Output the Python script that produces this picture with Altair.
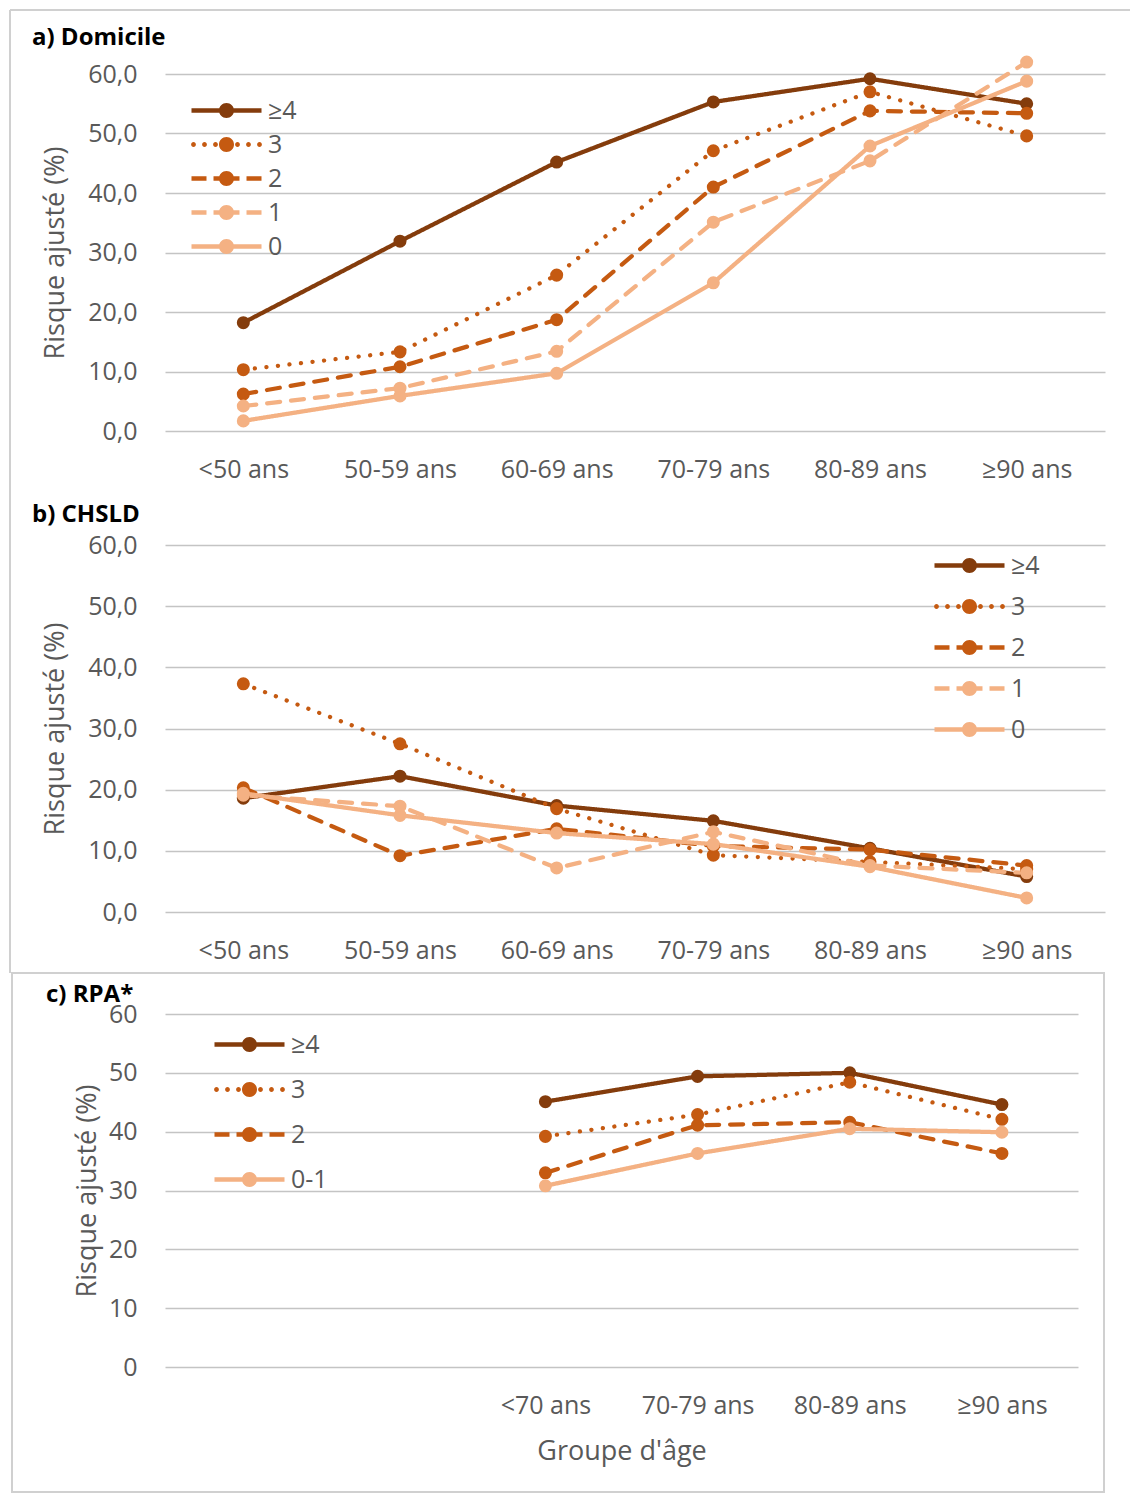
import altair as alt
import pandas as pd

# ---------------- data ----------------
ages_ab = ["<50 ans", "50-59 ans", "60-69 ans", "70-79 ans", "80-89 ans", "≥90 ans"]
series_ab = ["≥4", "3", "2", "1", "0"]

dom_ge4 = [18.2, 31.9, 45.2, 55.3, 59.2, 55.0]
dom_3 = [10.3, 13.3, 26.2, 47.1, 57.0, 49.6]
dom_2 = [6.2, 10.8, 18.7, 41.0, 53.8, 53.4]
dom_1 = [4.2, 7.2, 13.4, 35.1, 45.4, 62.0]
dom_0 = [1.7, 5.9, 9.7, 24.9, 47.9, 58.8]

chs_ge4 = [18.6, 22.2, 17.4, 14.9, 10.4, 5.8]
chs_3 = [37.3, 27.5, 16.9, 9.3, 8.2, 7.0]
chs_2 = [20.3, 9.2, 13.6, 10.8, 10.2, 7.6]
chs_1 = [19.1, 17.3, 7.2, 13.1, 7.6, 6.4]
chs_0 = [19.4, 15.8, 12.9, 11.1, 7.4, 2.3]

ages_c = ["<70 ans", "70-79 ans", "80-89 ans", "≥90 ans"]
slots_c = ["", " "] + ages_c  # two empty slots on the left of the RPA axis
series_c = ["≥4", "3", "2", "0-1"]
rpa_ge4 = [45.1, 49.4, 50.0, 44.6]
rpa_3 = [39.2, 42.9, 48.4, 42.1]
rpa_2 = [33.0, 41.1, 41.6, 36.3]
rpa_01 = [30.8, 36.3, 40.5, 39.9]

title_a = "a) Domicile"
title_b = "b) CHSLD"
title_c = "c) RPA*"
y_title = "Risque ajusté (%)"
x_title_c = "Groupe d'âge"


def long_df(ages, series, values):
    rows = []
    for s, vals in zip(series, values):
        for a, v in zip(ages, vals):
            rows.append({"age": a, "series": s, "value": v})
    return pd.DataFrame(rows)


df_a = long_df(ages_ab, series_ab, [dom_ge4, dom_3, dom_2, dom_1, dom_0])
df_b = long_df(ages_ab, series_ab, [chs_ge4, chs_3, chs_2, chs_1, chs_0])
df_c = long_df(ages_c, series_c, [rpa_ge4, rpa_3, rpa_2, rpa_01])
one = pd.DataFrame({"k": [0]})

# ---------------- styles ----------------
FONT = "Open Sans"
TXT = "#595959"
DARK = "#843C0C"
MID = "#C55A11"
LIGHT = "#F4B183"
FRAME = "#D0D0D0"
SOLID = [1, 0]
DOT = [0.1, 11.5]
DASH = [13, 11]

S = 12.0  # sqrt(symbol size)/2


def _r(x1, x2, h=2.25):
    return f"M{x1/S:.3f},{-h/S:.3f}L{x2/S:.3f},{-h/S:.3f}L{x2/S:.3f},{h/S:.3f}L{x1/S:.3f},{h/S:.3f}Z"


def _c(cx, r):
    return (f"M{(cx+r)/S:.3f},0A{r/S:.3f},{r/S:.3f} 0 1 1 {(cx-r)/S:.3f},0"
            f"A{r/S:.3f},{r/S:.3f} 0 1 1 {(cx+r)/S:.3f},0Z")


P_SOLID = _r(-35, 35) + _c(0, 7.5)
P_DOT = "".join(_c(x, 2.4) for x in (-33, -22, -11, 11, 22, 33)) + _c(0, 7.5)
P_DASH = _r(-35, -20) + _r(-13, -6) + _r(6, 13) + _r(20, 35) + _c(0, 7.5)


def panel(df, domain, series, colors, dashes, shapes, title, title_x, title_y,
          width, height, plot_h, x_label_pad, label_expr, y_title_pad,
          legend_x, legend_y, row_pad, frames, x_title=None):
    ax = dict(labelFont=FONT, labelFontSize=25, labelColor=TXT, labelPadding=x_label_pad,
              domain=False, ticks=False, grid=False, labelAngle=0)
    if x_title is not None:
        ax.update(title=x_title, titleFont=FONT, titleFontSize=27, titleColor=TXT,
                  titleFontWeight="normal", titlePadding=20)
    else:
        ax.update(title=None)
    x = alt.X("age:N", sort=domain, scale=alt.Scale(domain=domain), axis=alt.Axis(**ax))
    y = alt.Y("value:Q", scale=alt.Scale(domain=[0, 60], range=[plot_h, 0]),
              axis=alt.Axis(values=[0, 10, 20, 30, 40, 50, 60], labelExpr=label_expr,
                            labelFont=FONT, labelFontSize=25, labelColor=TXT, labelPadding=28,
                            domain=False, ticks=False, grid=True, gridColor="#C4C4C4",
                            gridWidth=1.4, title=y_title, titleFont=FONT,
                            titleFontSize=27, titleColor=TXT, titleFontWeight="normal",
                            titlePadding=y_title_pad))
    cscale = alt.Scale(domain=series, range=colors)
    leg = alt.Legend(title=None, orient="none", legendX=legend_x, legendY=legend_y,
                     direction="vertical", padding=0, labelFont=FONT, labelFontSize=25,
                     labelColor=TXT, symbolSize=576, symbolStrokeWidth=0, symbolOffset=24,
                     labelOffset=29, rowPadding=row_pad, symbolOpacity=1)
    # legend-only layer (no rows): carries the custom line+marker legend symbols
    lg = alt.Chart(df).transform_filter("false").mark_point(
        filled=True, opacity=1, size=576, strokeWidth=0
    ).encode(
        x=x, y=y,
        color=alt.Color("series:N", scale=cscale, legend=leg),
        shape=alt.Shape("series:N", scale=alt.Scale(domain=series, range=shapes), legend=leg),
    )
    line = alt.Chart(df).mark_line(strokeWidth=4.25, strokeCap="round").encode(
        x=x, y=y,
        color=alt.Color("series:N", scale=cscale, legend=None),
        strokeDash=alt.StrokeDash("series:N", scale=alt.Scale(domain=series, range=dashes), legend=None),
    )
    pts = alt.Chart(df).mark_circle(size=170, opacity=1).encode(
        x=x, y=y, color=alt.Color("series:N", scale=cscale, legend=None)
    )
    ttl = alt.Chart(one).mark_text(
        align="left", baseline="middle", font=FONT, fontSize=24, fontWeight="bold", color="black"
    ).encode(x=alt.value(title_x), y=alt.value(title_y), text=alt.value(title))
    layers = [lg] + frames + [line, pts, ttl]
    return alt.layer(*layers).properties(width=width, height=height)


def hline(x1, x2, y0):
    return alt.Chart(one).mark_rule(color=FRAME, strokeWidth=2).encode(
        x=alt.value(x1), x2=alt.value(x2), y=alt.value(y0))


def vline(x0, y1, y2):
    return alt.Chart(one).mark_rule(color=FRAME, strokeWidth=2).encode(
        x=alt.value(x0), y=alt.value(y1), y2=alt.value(y2))


def box(x1, x2, y1, y2):
    return alt.Chart(one).mark_rect(fillOpacity=0, stroke=FRAME, strokeWidth=2).encode(
        x=alt.value(x1), x2=alt.value(x2), y=alt.value(y1), y2=alt.value(y2))


comma1 = "replace(format(datum.value, '.1f'), '.', ',')"
comma0 = "format(datum.value, 'd')"

W_AB = 940
pa = panel(df_a, ages_ab, series_ab, [DARK, MID, MID, LIGHT, LIGHT],
           [SOLID, DOT, DASH, DASH, SOLID], [P_SOLID, P_DOT, P_DASH, P_DASH, P_SOLID],
           title_a, -133, -36, W_AB, 369, 357, 14, comma1, 18, 25, 24, 8,
           frames=[hline(-155, 965, -64), vline(-155, -64, 899)])
pb = panel(df_b, ages_ab, series_ab, [DARK, MID, MID, LIGHT, LIGHT],
           [SOLID, DOT, DASH, DASH, SOLID], [P_SOLID, P_DOT, P_DASH, P_DASH, P_SOLID],
           title_b, -133, -30, W_AB, 367, 367, 26, comma1, 18, 768, 8, 15, frames=[])
W_C = 913
pc = panel(df_c, slots_c, series_c, [DARK, MID, MID, LIGHT],
           [SOLID, DOT, DASH, SOLID], [P_SOLID, P_DOT, P_DASH, P_SOLID],
           title_c, -119, -19, W_C, 353, 353, 26, comma0, 7, 48, 18, 19,
           frames=[box(-153, 939, -41, 478)], x_title=x_title_c)

chart = alt.vconcat(pa, pb, pc, spacing=102, bounds="flush").resolve_scale(
    x="independent", y="independent", color="independent",
    shape="independent", strokeDash="independent"
).resolve_legend(color="independent", shape="independent").properties(
    padding={"left": 1, "top": 1, "right": 0, "bottom": 0}
).configure(background="white").configure_view(strokeWidth=0)

chart.save("out.html", embed_options={"renderer": "svg", "actions": False})
